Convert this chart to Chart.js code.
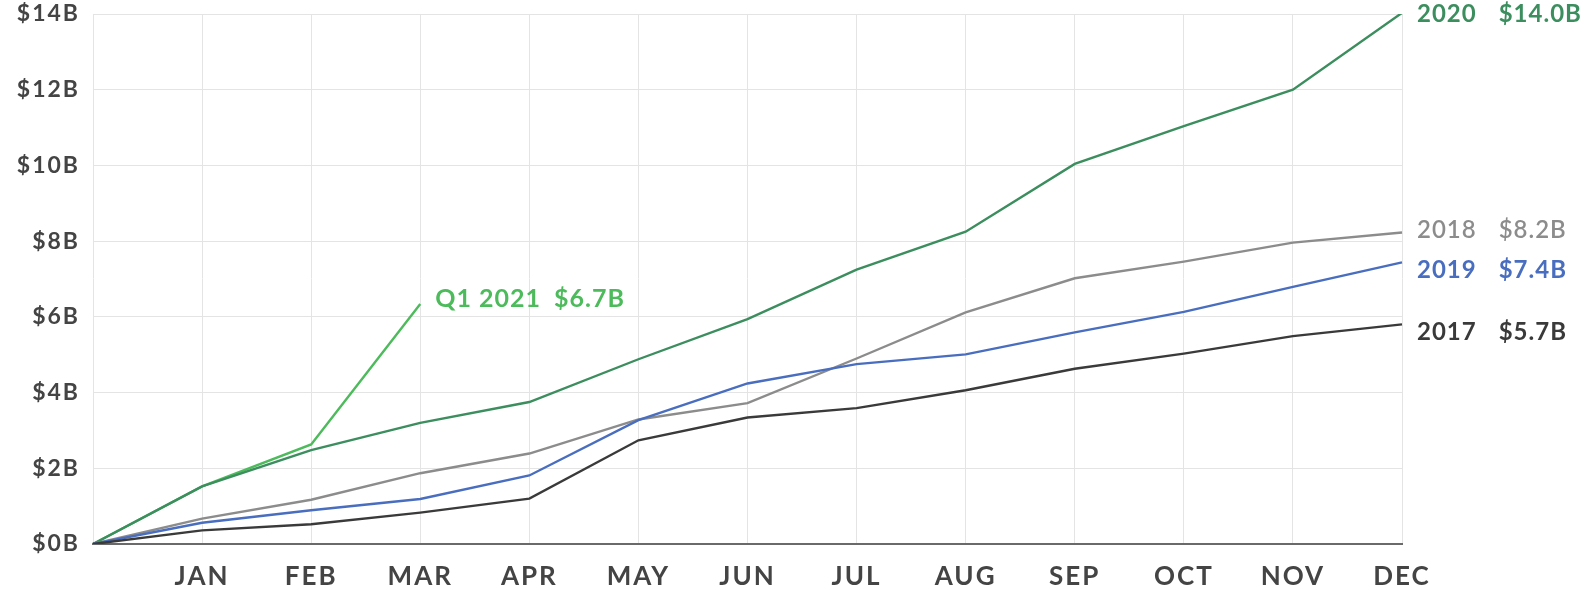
<!DOCTYPE html>
<html><head><meta charset="utf-8">
<script src="https://cdn.jsdelivr.net/npm/chart.js@4"></script>
<style>html,body{margin:0;padding:0;background:#fff}#wrap{width:1595px;height:590px}</style>
</head><body><div id="wrap"><canvas id="c" width="1595" height="590"></canvas></div>
<script>
const categories = ['', 'JAN','FEB','MAR','APR','MAY','JUN','JUL','AUG','SEP','OCT','NOV','DEC'];
const yTickValues = [0,2,4,6,8,10,12,14];
const s2017 = [0,0.36,0.52,0.83,1.20,2.74,3.34,3.59,4.06,4.63,5.03,5.49,5.80];
const s2018 = [0,0.67,1.17,1.87,2.39,3.29,3.72,4.90,6.12,7.02,7.46,7.96,8.23];
const s2019 = [0,0.56,0.89,1.19,1.81,3.27,4.24,4.75,5.01,5.59,6.13,6.79,7.44];
const s2020 = [0,1.52,2.48,3.20,3.75,4.88,5.94,7.25,8.25,10.04,11.04,12.00,14.03];
const s2021 = [0,1.52,2.63,6.34];
const endLabels = [
  {year:'2020', value:'$14.0B', series:'2020', color:'#3c8e5e', weight:'bold', size:24, dy:1, gap:22},
  {year:'2018', value:'$8.2B', series:'2018', color:'#8c8c8c', weight:'600', size:24, dy:-2, gap:22},
  {year:'2019', value:'$7.4B', series:'2019', color:'#4a6ebf', weight:'bold', size:24, dy:8, gap:22},
  {year:'2017', value:'$5.7B', series:'2017', color:'#3a3a3a', weight:'bold', size:24, dy:8, gap:22},
  {year:'Q1 2021', value:'$6.7B', series:'2021', color:'#4dbb5c', weight:'bold', size:25, dy:-5, gap:13}
];
const FONT = 'Lato, "Open Sans", sans-serif';

const spacingPlugin = {
  id:'spacing',
  beforeDraw(chart){ chart.ctx.letterSpacing = '2px'; }
};

const labelPlugin = {
  id:'endLabels',
  afterDatasetsDraw(chart){
    const ctx = chart.ctx;
    ctx.save();
    ctx.letterSpacing = '1px';
    ctx.textBaseline = 'middle';
    ctx.textAlign = 'left';
    endLabels.forEach(l=>{
      const di = chart.data.datasets.findIndex(d=>d.label===l.series);
      const meta = chart.getDatasetMeta(di);
      const pt = meta.data[meta.data.length-1];
      ctx.font = l.weight + ' ' + l.size + 'px ' + FONT;
      ctx.fillStyle = l.color;
      const x = pt.x + 15;
      const y = pt.y + l.dy;
      ctx.fillText(l.year, x, y);
      const w = ctx.measureText(l.year).width;
      ctx.fillText(l.value, x + w + l.gap, y);
    });
    ctx.restore();
  }
};

new Chart(document.getElementById('c'), {
  type:'line',
  data:{
    labels:categories,
    datasets:[
      {label:'2017', data:s2017, borderColor:'#3a3a3a'},
      {label:'2019', data:s2019, borderColor:'#4a6ebf'},
      {label:'2018', data:s2018, borderColor:'#8c8c8c'},
      {label:'2020', data:s2020, borderColor:'#3c8e5e'},
      {label:'2021', data:s2021, borderColor:'#4dbb5c'}
    ].map(d=>Object.assign(d,{borderWidth:2.4,pointRadius:0,tension:0,fill:false}))
  },
  options:{
    responsive:false, animation:false, devicePixelRatio:1,
    layout:{padding:{top:14,right:193,left:0,bottom:0}},
    plugins:{legend:{display:false},tooltip:{enabled:false}},
    scales:{
      x:{
        offset:false,
        grid:{color:'#e4e4e4',lineWidth:1,drawTicks:false},
        border:{color:'#6a6a6a',width:2},
        ticks:{color:'#444',font:{family:FONT,size:26,weight:'bold'},padding:17,maxRotation:0,autoSkip:false},
        afterFit(s){s.height=46; s.paddingLeft=0; s.paddingRight=0;}
      },
      y:{
        min:0,max:14,
        afterBuildTicks(s){s.ticks = yTickValues.map(v=>({value:v}));},
        grid:{color:'#e4e4e4',lineWidth:1,drawTicks:false},
        border:{display:false},
        ticks:{color:'#444',font:{family:FONT,size:23,weight:'bold'},padding:13,callback:v=>'$'+v+'B'},
        afterFit(s){s.width=93; s.paddingTop=0; s.paddingBottom=0;}
      }
    }
  },
  plugins:[spacingPlugin, labelPlugin]
});
</script></body></html>
